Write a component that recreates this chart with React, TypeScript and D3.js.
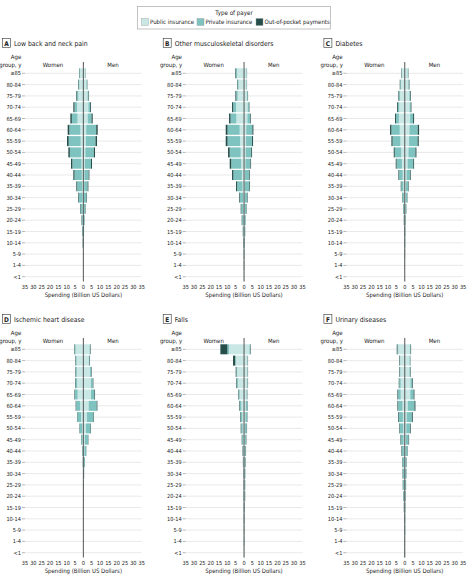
import React from "react";
import * as d3 from "d3";

const ageGroups = ["≥85","80-84","75-79","70-74","65-69","60-64","55-59","50-54","45-49","40-44","35-39","30-34","25-29","20-24","15-19","10-14","5-9","1-4","<1"];
const payers = ["Public insurance", "Private insurance", "Out-of-pocket payments"];
const payerColors = ["#c8e7e5", "#7fc3c0", "#264f4c"];
const xTicks = [-35,-30,-25,-20,-15,-10,-5,0,5,10,15,20,25,30,35];

// Panel A: Low back and neck pain  [public, private, out-of-pocket] by age group
const lowBackWomen = [[2.0,0.4,0.2],[2.4,0.5,0.3],[3.0,0.8,0.4],[3.8,1.5,0.7],[3.5,3.4,0.9],[1.8,6.6,1.0],[1.6,7.2,1.0],[1.4,6.7,0.9],[1.1,5.5,0.8],[0.9,4.4,0.7],[0.7,3.0,0.5],[0.5,2.1,0.4],[0.4,1.3,0.3],[0.3,0.7,0.2],[0.2,0.5,0.1],[0.1,0.3,0.1],[0.05,0.05,0.0],[0.03,0.02,0.0],[0.02,0.01,0.0]];
const lowBackMen = [[1.1,0.2,0.1],[1.8,0.4,0.2],[2.5,0.6,0.3],[3.0,1.1,0.5],[2.6,2.3,0.7],[1.7,6.0,0.9],[1.5,5.8,0.9],[1.2,5.1,0.7],[0.9,3.7,0.6],[0.6,2.6,0.4],[0.5,2.1,0.4],[0.4,1.5,0.3],[0.3,0.9,0.2],[0.2,0.5,0.1],[0.1,0.25,0.05],[0.05,0.08,0.02],[0.03,0.02,0.0],[0.02,0.01,0.0],[0.01,0.01,0.0]];

// Panel B: Other musculoskeletal disorders
const muscWomen = [[4.2,0.6,0.4],[3.3,0.6,0.3],[3.8,0.9,0.5],[4.8,1.7,0.7],[4.6,3.5,0.9],[2.6,7.3,1.1],[2.4,7.5,1.1],[2.0,6.6,1.0],[1.7,6.0,0.9],[1.3,5.1,0.8],[0.9,3.3,0.6],[0.6,2.0,0.4],[0.4,1.3,0.3],[0.3,0.9,0.2],[0.2,0.5,0.1],[0.1,0.3,0.1],[0.1,0.15,0.05],[0.05,0.1,0.05],[0.04,0.05,0.01]];
const muscMen = [[1.4,0.3,0.1],[1.4,0.3,0.1],[1.8,0.4,0.2],[2.2,0.7,0.3],[2.0,1.6,0.4],[1.3,3.7,0.6],[1.2,3.6,0.6],[1.0,3.3,0.5],[0.8,3.0,0.4],[0.6,2.4,0.4],[0.5,2.6,0.4],[0.4,1.5,0.3],[0.3,1.1,0.2],[0.2,0.7,0.1],[0.15,0.45,0.1],[0.1,0.35,0.05],[0.1,0.15,0.05],[0.05,0.1,0.05],[0.03,0.05,0.02]];

// Panel C: Diabetes
const diabWomen = [[1.7,0.3,0.2],[2.3,0.4,0.3],[2.9,0.5,0.4],[3.3,0.8,0.5],[3.5,1.7,0.6],[3.0,5.0,0.8],[2.6,4.7,0.7],[2.1,3.9,0.6],[1.7,3.2,0.5],[1.2,2.2,0.4],[0.8,1.3,0.3],[0.5,0.9,0.2],[0.3,0.55,0.15],[0.2,0.3,0.1],[0.1,0.25,0.05],[0.1,0.15,0.05],[0.05,0.1,0.05],[0.03,0.05,0.02],[0.02,0.02,0.01]];
const diabMen = [[1.7,0.3,0.2],[2.1,0.4,0.3],[2.7,0.5,0.4],[2.9,0.7,0.4],[3.2,1.8,0.6],[2.8,5.0,0.8],[2.6,5.1,0.7],[2.2,4.2,0.6],[1.7,3.4,0.5],[1.1,2.1,0.4],[0.7,1.4,0.3],[0.5,0.9,0.2],[0.3,0.55,0.15],[0.2,0.3,0.1],[0.1,0.25,0.05],[0.1,0.15,0.05],[0.05,0.1,0.05],[0.03,0.05,0.02],[0.02,0.02,0.01]];

// Panel D: Ischemic heart disease
const heartWomen = [[4.6,0.5,0.3],[4.0,0.5,0.3],[3.9,0.6,0.3],[3.8,0.9,0.3],[3.4,1.7,0.3],[2.0,2.3,0.3],[1.4,2.2,0.2],[0.8,1.4,0.2],[0.5,0.8,0.1],[0.3,0.45,0.05],[0.15,0.2,0.05],[0.08,0.1,0.02],[0.04,0.05,0.01],[0.03,0.05,0.02],[0.02,0.02,0.01],[0.01,0.02,0.0],[0.01,0.01,0.0],[0.01,0.01,0.0],[0.01,0.01,0.0]];
const heartMen = [[3.7,0.4,0.3],[3.3,0.4,0.3],[4.0,0.7,0.3],[4.5,1.2,0.3],[4.6,2.0,0.4],[3.2,4.8,0.4],[2.2,3.9,0.3],[1.5,2.8,0.3],[0.9,1.9,0.2],[0.6,1.1,0.1],[0.3,0.6,0.1],[0.15,0.3,0.05],[0.1,0.15,0.05],[0.05,0.1,0.05],[0.03,0.05,0.02],[0.02,0.03,0.0],[0.01,0.01,0.0],[0.01,0.01,0.0],[0.01,0.01,0.0]];

// Panel E: Falls
const fallsWomen = [[9.0,1.0,4.2],[5.0,0.3,1.3],[4.2,0.4,0.4],[3.7,0.5,0.4],[2.6,0.6,0.3],[1.6,1.1,0.3],[1.1,1.0,0.3],[0.8,0.9,0.3],[0.5,0.7,0.2],[0.3,0.5,0.2],[0.2,0.4,0.1],[0.15,0.3,0.05],[0.1,0.25,0.05],[0.1,0.25,0.05],[0.08,0.2,0.02],[0.08,0.2,0.02],[0.05,0.13,0.02],[0.05,0.13,0.02],[0.03,0.06,0.01]];
const fallsMen = [[3.2,0.5,0.3],[2.0,0.2,0.2],[2.0,0.2,0.2],[1.9,0.3,0.2],[1.4,0.4,0.2],[1.0,1.0,0.2],[0.8,1.0,0.2],[0.6,1.0,0.2],[0.5,0.7,0.2],[0.4,0.6,0.2],[0.3,0.5,0.2],[0.2,0.5,0.1],[0.2,0.4,0.1],[0.2,0.4,0.1],[0.1,0.3,0.1],[0.1,0.25,0.05],[0.1,0.15,0.05],[0.1,0.15,0.05],[0.04,0.05,0.01]];

// Panel F: Urinary diseases
const urinWomen = [[3.9,0.5,0.4],[2.7,0.4,0.3],[2.6,0.5,0.3],[2.4,0.9,0.3],[2.4,1.6,0.4],[1.3,2.7,0.4],[1.1,2.5,0.4],[0.9,2.2,0.3],[0.7,1.6,0.3],[0.5,1.2,0.3],[0.4,1.0,0.2],[0.3,0.9,0.2],[0.3,0.7,0.2],[0.3,0.55,0.15],[0.2,0.3,0.1],[0.1,0.25,0.05],[0.1,0.15,0.05],[0.05,0.12,0.03],[0.05,0.12,0.03]];
const urinMen = [[3.1,0.4,0.3],[2.8,0.4,0.2],[2.8,0.5,0.3],[3.4,1.0,0.4],[3.3,2.0,0.5],[1.8,4.0,0.6],[1.2,3.1,0.5],[0.9,2.3,0.4],[0.6,1.7,0.3],[0.4,1.2,0.2],[0.3,0.75,0.15],[0.2,0.65,0.15],[0.2,0.5,0.1],[0.1,0.4,0.1],[0.1,0.25,0.05],[0.05,0.2,0.05],[0.05,0.2,0.05],[0.05,0.12,0.03],[0.05,0.12,0.03]];

const panelLetters = ["A","B","C","D","E","F"];
const panelTitles = ["Low back and neck pain","Other musculoskeletal disorders","Diabetes","Ischemic heart disease","Falls","Urinary diseases"];
const panelWomen = [lowBackWomen, muscWomen, diabWomen, heartWomen, fallsWomen, urinWomen];
const panelMen = [lowBackMen, muscMen, diabMen, heartMen, fallsMen, urinMen];

const FONT = "'DejaVu Sans Condensed', 'Liberation Sans', sans-serif";
const W = 468, H = 581;

function Panel({ idx }: { idx: number }) {
  const col = idx % 3, row = Math.floor(idx / 3);
  const ox = col * 160.7, oy = row * 276;
  const x = d3.scaleLinear().domain([-35, 35]).range([25, 141.7]);
  const y = d3.scalePoint<string>().domain(ageGroups).range([73.3, 276.7]);
  const barH = 10;
  const women = panelWomen[idx], men = panelMen[idx];

  const segs: JSX.Element[] = [];
  ageGroups.forEach((ag, i) => {
    const yc = y(ag) as number;
    [women[i], men[i]].forEach((vals, side) => {
      const sign = side === 0 ? -1 : 1;
      let cum = 0;
      vals.forEach((v, k) => {
        const a = x(sign * cum), b = x(sign * (cum + v));
        cum += v;
        segs.push(
          <rect key={`${i}-${side}-${k}`} x={Math.min(a, b)} y={yc - barH / 2}
            width={Math.abs(b - a)} height={barH} fill={payerColors[k]} />
        );
      });
    });
  });

  return (
    <g transform={`translate(${ox},${oy})`} fontFamily={FONT}>
      <rect x={2.5} y={38.5} width={8} height={9} fill="white" stroke="#333" strokeWidth={0.6} />
      <text x={6.5} y={45.5} fontSize={6.5} fontWeight="bold" textAnchor="middle" fill="#222">{panelLetters[idx]}</text>
      <text x={14} y={45.5} fontSize={6.8} fill="#222">{panelTitles[idx]}</text>
      <text x={16} y={58.5} fontSize={6} textAnchor="middle" fill="#222">Age</text>
      <text x={21.5} y={67} fontSize={6} textAnchor="end" fill="#222">group, y</text>
      <text x={53} y={67} fontSize={6} textAnchor="middle" fill="#222">Women</text>
      <text x={113} y={67} fontSize={6} textAnchor="middle" fill="#222">Men</text>
      {ageGroups.map((ag) => (
        <g key={ag}>
          <line x1={25} x2={141.7} y1={y(ag)} y2={y(ag)} stroke="#e3e3e3" strokeWidth={0.8} />
          <line x1={22} x2={25} y1={y(ag)} y2={y(ag)} stroke="#888" strokeWidth={0.6} />
          <text x={21} y={(y(ag) as number) + 2} fontSize={5.6} textAnchor="end" fill="#222">{ag}</text>
        </g>
      ))}
      {segs}
      <line x1={x(0)} x2={x(0)} y1={62} y2={281.5} stroke="#444" strokeWidth={0.9} />
      {xTicks.map((t) => (
        <text key={t} x={x(t)} y={289} fontSize={5.6} textAnchor="middle" fill="#222">{Math.abs(t)}</text>
      ))}
      <text x={x(0)} y={297} fontSize={6} textAnchor="middle" fill="#222">Spending (Billion US Dollars)</text>
    </g>
  );
}

export default function App() {
  const legendX = [141.5, 197, 256];
  const legendTextX = [150, 205.5, 264.5];
  return (
    <svg width={W} height={H} style={{ position: "absolute", left: 0, top: 0, background: "white" }}>
      <g fontFamily={FONT}>
        <rect x={137.5} y={6.5} width={193} height={22.5} fill="white" stroke="#aaa" strokeWidth={0.7} />
        <text x={234} y={15} fontSize={6.2} textAnchor="middle" fill="#222">Type of payer</text>
        {payers.map((p, i) => (
          <g key={p}>
            <rect x={legendX[i]} y={18.5} width={7} height={7} fill={payerColors[i]} stroke="#999" strokeWidth={0.4} />
            <text x={legendTextX[i]} y={24.3} fontSize={6} fill="#222">{p}</text>
          </g>
        ))}
      </g>
      {panelLetters.map((_, i) => <Panel key={i} idx={i} />)}
    </svg>
  );
}
